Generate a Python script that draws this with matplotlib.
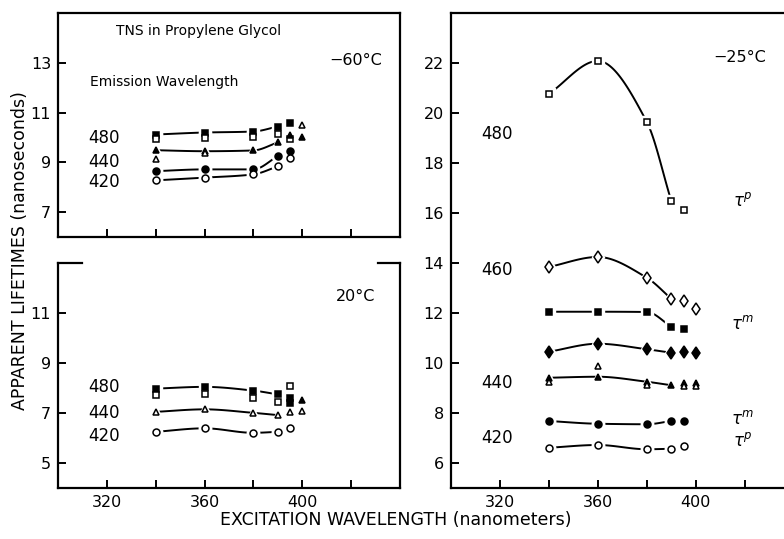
import numpy as np
import matplotlib
matplotlib.use("Agg")
import matplotlib.pyplot as plt

plt.rcParams['font.family'] = ['DejaVu Sans']

# ---------------- data ----------------
# Panel A : -60 C
a_sq_fill_x = [340, 360, 380, 390, 395]
a_sq_fill_y = [10.12, 10.20, 10.24, 10.44, 10.60]
a_sq_open_x = [340, 360, 380, 390, 395]
a_sq_open_y = [9.96, 10.00, 10.04, 10.16, 9.92]
a_tri_fill_x = [340, 360, 380, 390, 395, 400]
a_tri_fill_y = [9.49, 9.45, 9.48, 9.80, 10.12, 10.04]
a_tri_open_x = [340, 360, 400]
a_tri_open_y = [9.12, 9.36, 10.52]
a_cir_fill_x = [340, 360, 380, 390, 395]
a_cir_fill_y = [8.65, 8.72, 8.72, 9.25, 9.45]
a_cir_open_x = [340, 360, 380, 390, 395]
a_cir_open_y = [8.28, 8.39, 8.52, 8.84, 9.16]

# Panel B : 20 C
b_sq_fill_x = [340, 360, 380, 390, 395, 395]
b_sq_fill_y = [7.98, 8.05, 7.90, 7.75, 7.62, 7.40]
b_sq_open_x = [340, 360, 380, 390, 395]
b_sq_open_y = [7.72, 7.78, 7.60, 7.45, 8.08]
b_tri_x = [340, 360, 380, 390, 395, 400]
b_tri_y = [7.05, 7.15, 7.01, 6.92, 7.05, 7.09]
b_tri_fill_x = [400]
b_tri_fill_y = [7.52]
b_cir_open_x = [340, 360, 380, 390, 395]
b_cir_open_y = [6.25, 6.39, 6.21, 6.25, 6.39]

# Panel C : -25 C
c_sq_open_x = [340, 360, 380, 390, 395]
c_sq_open_y = [20.76, 22.08, 19.64, 16.48, 16.12]
c_dia_open_x = [340, 360, 380, 390, 395, 400]
c_dia_open_y = [13.84, 14.24, 13.41, 12.57, 12.48, 12.15]
c_sq_fill_x = [340, 360, 380, 390, 395]
c_sq_fill_y = [12.05, 12.05, 12.04, 11.45, 11.35]
c_dia_fill_x = [340, 360, 380, 390, 395, 400]
c_dia_fill_y = [10.45, 10.77, 10.55, 10.41, 10.45, 10.41]
c_tri_fill_x = [340, 360, 380, 390, 395, 400]
c_tri_fill_y = [9.41, 9.45, 9.25, 9.11, 9.21, 9.21]
c_tri_open_x = [340, 360, 380, 395, 400]
c_tri_open_y = [9.25, 9.88, 9.11, 9.06, 9.06]
c_cir_fill_x = [340, 360, 380, 390, 395]
c_cir_fill_y = [7.68, 7.57, 7.55, 7.68, 7.68]
c_cir_open_x = [340, 360, 380, 390, 395]
c_cir_open_y = [6.61, 6.72, 6.55, 6.57, 6.68]

x_ticks = [320, 340, 360, 380, 400, 420]
x_tick_labels = ['320', '', '360', '', '400', '']

# ---------------- helpers ----------------
def pchip(xs, ys, n=4):
    x = np.asarray(xs[:n], float)
    y = np.asarray(ys[:n], float)
    h = np.diff(x)
    d = np.diff(y) / h
    m = np.zeros_like(y)
    for k in range(1, len(x) - 1):
        if d[k - 1] * d[k] > 0:
            w1 = 2 * h[k] + h[k - 1]
            w2 = h[k] + 2 * h[k - 1]
            m[k] = (w1 + w2) / (w1 / d[k - 1] + w2 / d[k])
    m[0] = d[0]
    m[-1] = d[-1]
    xx_all, yy_all = [], []
    for k in range(len(x) - 1):
        t = np.linspace(0, 1, 40)
        h00 = 2 * t**3 - 3 * t**2 + 1
        h10 = t**3 - 2 * t**2 + t
        h01 = -2 * t**3 + 3 * t**2
        h11 = t**3 - t**2
        yy = h00 * y[k] + h10 * h[k] * m[k] + h01 * y[k + 1] + h11 * h[k] * m[k + 1]
        xx_all.append(x[k] + t * h[k])
        yy_all.append(yy)
    return np.concatenate(xx_all), np.concatenate(yy_all)

def draw(ax, xs, ys, marker, filled, line_n=0, ms=5.0):
    if line_n:
        xx, yy = pchip(xs, ys, line_n)
        ax.plot(xx, yy, color='black', lw=1.4, zorder=2)
    ax.plot(xs, ys, linestyle='none', marker=marker, ms=ms + 4,
            mfc='white', mec='white', zorder=3)
    ax.plot(xs, ys, linestyle='none', marker=marker, ms=ms,
            mfc='black' if filled else 'white', mec='black', mew=1.1, zorder=4)

def style(ax):
    ax.tick_params(direction='in', length=6, width=1.4, labelsize=11.5, pad=5)
    for s in ax.spines.values():
        s.set_linewidth(1.6)
    ax.set_xlim(300, 440)
    ax.set_xticks(x_ticks)

fig = plt.figure(figsize=(7.84, 5.39), dpi=100)

# ---------------- panel A ----------------
axA = fig.add_axes([0.074, 0.560, 0.436, 0.416])
style(axA)
axA.set_ylim(6, 15)
axA.set_yticks([7, 9, 11, 13])
axA.set_xticklabels([])
draw(axA, a_sq_fill_x, a_sq_fill_y, 's', True, 4)
draw(axA, a_sq_open_x, a_sq_open_y, 's', False, 0)
draw(axA, a_tri_fill_x, a_tri_fill_y, '^', True, 4)
draw(axA, a_tri_open_x, a_tri_open_y, '^', False, 0)
draw(axA, a_cir_fill_x, a_cir_fill_y, 'o', True, 4)
draw(axA, a_cir_open_x, a_cir_open_y, 'o', False, 4)
axA.text(0.41, 0.92, 'TNS in Propylene Glycol', transform=axA.transAxes,
         ha='center', va='center', fontsize=10)
axA.text(0.87, 0.79, '\u221260\u00b0C', transform=axA.transAxes,
         ha='center', va='center', fontsize=11.5)
axA.text(0.095, 0.69, 'Emission Wavelength', transform=axA.transAxes,
         ha='left', va='center', fontsize=10)
axA.text(319, 10.0, '480', ha='center', va='center', fontsize=12)
axA.text(319, 9.0, '440', ha='center', va='center', fontsize=12)
axA.text(319, 8.2, '420', ha='center', va='center', fontsize=12)

# ---------------- panel B ----------------
axB = fig.add_axes([0.074, 0.0946, 0.436, 0.417])
style(axB)
axB.set_ylim(4, 13)
axB.set_yticks([5, 7, 9, 11])
axB.set_xticklabels(x_tick_labels)
axB.spines['top'].set_visible(False)
axB.plot([0, 0.07], [1, 1], color='black', lw=1.6, transform=axB.transAxes, clip_on=False)
axB.plot([0.935, 1.0], [1, 1], color='black', lw=1.6, transform=axB.transAxes, clip_on=False)
draw(axB, b_sq_fill_x, b_sq_fill_y, 's', True, 4)
draw(axB, b_sq_open_x, b_sq_open_y, 's', False, 0)
draw(axB, b_tri_x, b_tri_y, '^', False, 4)
draw(axB, b_tri_fill_x, b_tri_fill_y, '^', True, 0)
draw(axB, b_cir_open_x, b_cir_open_y, 'o', False, 4)
axB.text(0.87, 0.85, '20\u00b0C', transform=axB.transAxes,
         ha='center', va='center', fontsize=11.5)
axB.text(319, 8.04, '480', ha='center', va='center', fontsize=12)
axB.text(319, 7.0, '440', ha='center', va='center', fontsize=12)
axB.text(319, 6.1, '420', ha='center', va='center', fontsize=12)

# ---------------- panel C ----------------
axC = fig.add_axes([0.575, 0.0946, 0.425, 0.8814])
style(axC)
axC.set_xlim(300, 436)
axC.set_ylim(5, 24)
axC.set_yticks([6, 8, 10, 12, 14, 16, 18, 20, 22])
axC.set_xticklabels(x_tick_labels)
axC.spines['right'].set_visible(False)
draw(axC, c_sq_open_x, c_sq_open_y, 's', False, 4)
draw(axC, c_dia_open_x, c_dia_open_y, 'd', False, 4, ms=6.5)
draw(axC, c_sq_fill_x, c_sq_fill_y, 's', True, 4)
draw(axC, c_dia_fill_x, c_dia_fill_y, 'd', True, 4, ms=6.5)
draw(axC, c_tri_fill_x, c_tri_fill_y, '^', True, 4)
draw(axC, c_tri_open_x, c_tri_open_y, '^', False, 0)
draw(axC, c_cir_fill_x, c_cir_fill_y, 'o', True, 4)
draw(axC, c_cir_open_x, c_cir_open_y, 'o', False, 4)
axC.text(418, 22.2, '\u221225\u00b0C', ha='center', va='center', fontsize=11.5)
axC.text(319, 19.16, '480', ha='center', va='center', fontsize=12)
axC.text(319, 13.72, '460', ha='center', va='center', fontsize=12)
axC.text(319, 9.2, '440', ha='center', va='center', fontsize=12)
axC.text(319, 7.0, '420', ha='center', va='center', fontsize=12)
axC.text(419, 16.48, r'$\tau^{p}$', ha='center', va='center', fontsize=12)
axC.text(419, 11.56, r'$\tau^{m}$', ha='center', va='center', fontsize=12)
axC.text(419, 7.76, r'$\tau^{m}$', ha='center', va='center', fontsize=12)
axC.text(419, 6.88, r'$\tau^{p}$', ha='center', va='center', fontsize=12)

fig.text(0.025, 0.535, 'APPARENT LIFETIMES (nanoseconds)', rotation=90,
         ha='center', va='center', fontsize=12.5)
fig.text(0.505, 0.035, 'EXCITATION WAVELENGTH (nanometers)',
         ha='center', va='center', fontsize=12.5)

fig.savefig('out.png', dpi=100)
